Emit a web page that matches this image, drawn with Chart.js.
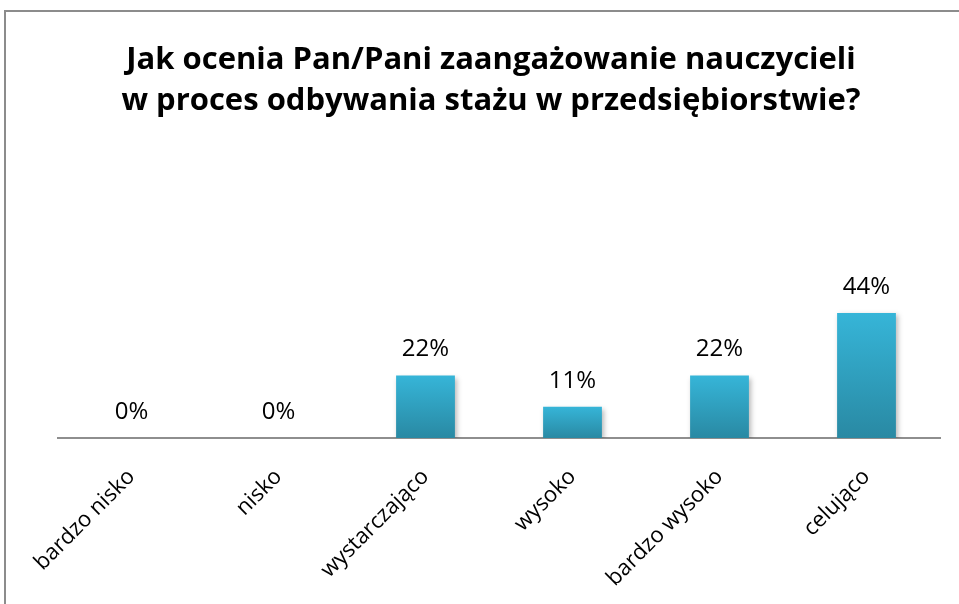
<!DOCTYPE html>
<html>
<head>
<meta charset="utf-8">
<script src="https://cdn.jsdelivr.net/npm/chart.js@4.4.1/dist/chart.umd.min.js"></script>
<style>
  html, body { margin: 0; padding: 0; background: #fff; }
  #wrap { position: relative; width: 959px; height: 604px; overflow: hidden; }
  #frame { position: absolute; left: 4px; top: 10px; width: 1000px; height: 700px;
           border-top: 2px solid #8c8c8c; border-left: 2px solid #8c8c8c; }
  canvas { position: absolute; left: 0; top: 0; }
</style>
</head>
<body>
<div id="wrap">
  <div id="frame"></div>
  <canvas id="chart" width="959" height="604"></canvas>
</div>
<script>
// chart data
const categories = ['bardzo nisko', 'nisko', 'wystarczająco', 'wysoko', 'bardzo wysoko', 'celująco'];
const percentValues = [0, 0, 22, 11, 22, 44];
const titleLines = ['Jak ocenia Pan/Pani zaangażowanie nauczycieli', 'w proces odbywania stażu w przedsiębiorstwie?'];

const FONT = "'Open Sans', sans-serif";

// per-bar vertical gradient (bright on top, darker at the base)
function barGradient(context) {
  const chart = context.chart;
  if (!chart.chartArea) return '#33aed0';
  const yScale = chart.scales.y;
  const v = context.raw || 0;
  const top = yScale.getPixelForValue(v);
  const bottom = yScale.getPixelForValue(0);
  const g = chart.ctx.createLinearGradient(0, top, 0, bottom + 0.01);
  g.addColorStop(0, '#36b5d8');
  g.addColorStop(1, '#2989a3');
  return g;
}

// title drawn manually so it can be centred on the whole chart frame
const titlePlugin = {
  id: 'frameTitle',
  afterDraw(chart) {
    const ctx = chart.ctx;
    ctx.save();
    ctx.fillStyle = '#000';
    ctx.font = 'bold 31px ' + FONT;
    ctx.textAlign = 'center';
    ctx.textBaseline = 'middle';
    titleLines.forEach((line, i) => ctx.fillText(line, 491, 60 + i * 41));
    ctx.restore();
  }
};

// value labels above bars
const valueLabels = {
  id: 'valueLabels',
  afterDatasetsDraw(chart) {
    const ctx = chart.ctx;
    const meta = chart.getDatasetMeta(0);
    ctx.save();
    ctx.fillStyle = '#000';
    ctx.font = '24px ' + FONT;
    ctx.textAlign = 'center';
    ctx.textBaseline = 'middle';
    meta.data.forEach((bar, i) => {
      ctx.fillText(percentValues[i] + '%', bar.x, bar.y - 26);
    });
    ctx.restore();
  }
};

// soft shadow under the bars
const barShadow = {
  id: 'barShadow',
  beforeDatasetsDraw(chart) {
    const ctx = chart.ctx;
    ctx.save();
    ctx.shadowColor = 'rgba(0,0,0,0.28)';
    ctx.shadowBlur = 5;
    ctx.shadowOffsetX = 2;
    ctx.shadowOffsetY = 2;
  },
  afterDatasetsDraw(chart) {
    chart.ctx.restore();
  }
};

new Chart(document.getElementById('chart'), {
  type: 'bar',
  data: {
    labels: categories,
    datasets: [{
      data: percentValues,
      backgroundColor: barGradient,
      borderWidth: 0,
      categoryPercentage: 1,
      barPercentage: 0.4
    }]
  },
  options: {
    responsive: false,
    animation: false,
    layout: { padding: { left: 58, right: 19, top: 296, bottom: 0 } },
    plugins: {
      legend: { display: false },
      title: { display: false },
      tooltip: { enabled: false }
    },
    scales: {
      x: {
        grid: { display: false, drawTicks: false },
        border: { display: true, color: '#8e8e8e', width: 2 },
        ticks: {
          color: '#000',
          font: { family: FONT, size: 22 },
          minRotation: 45,
          maxRotation: 45,
          padding: 26
        },
        afterFit(scale) { scale.height = 166; }
      },
      y: {
        display: false,
        min: 0,
        max: 50
      }
    }
  },
  plugins: [barShadow, valueLabels, titlePlugin]
});
</script>
</body>
</html>
